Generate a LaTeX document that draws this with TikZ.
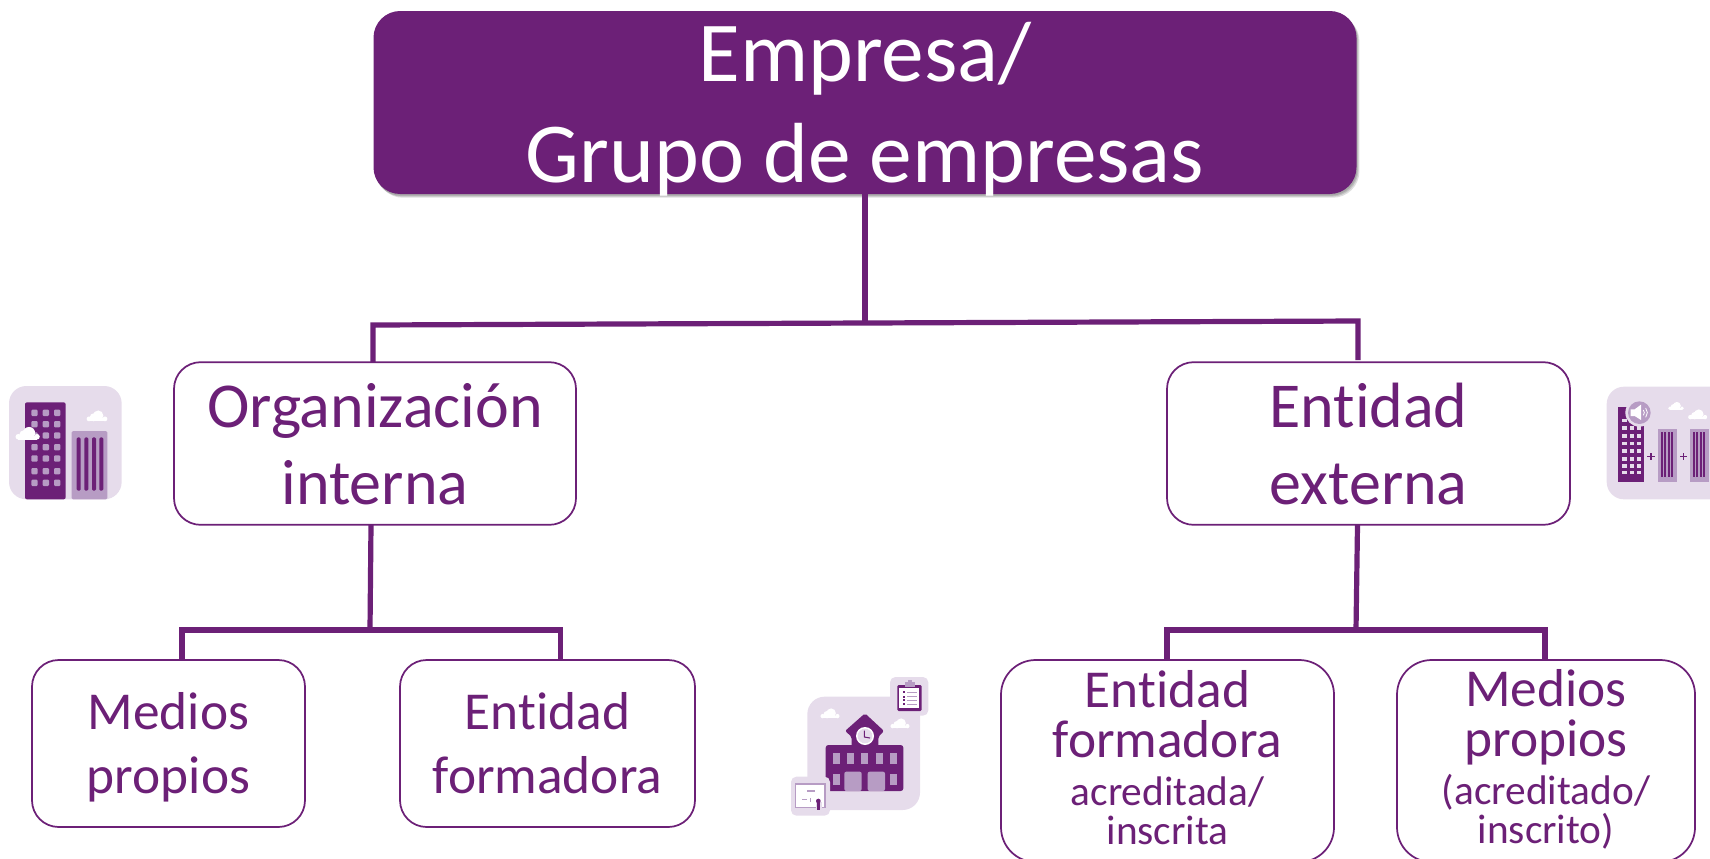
\documentclass[tikz,border=0pt]{standalone}
\usepackage{fontspec}
\setmainfont[Ligatures={NoCommon}]{Carlito}
\usetikzlibrary{shadows,calc}
\definecolor{pur}{HTML}{6C2077}
\definecolor{lite}{HTML}{E6DCEB}
\definecolor{midp}{HTML}{B79CC4}
\newcommand{\lbl}[2]{\makebox[0pt]{\raisebox{#1}[0pt][0pt]{\parbox[c]{900pt}{\centering #2}}}}
\newcommand{\fs}[2]{\fontsize{#1}{#2}\selectfont}
\newcommand{\pcloud}[3]{\begin{scope}[shift={(#1,#2)},scale=#3]
  \fill[white] (-20,3) circle[radius=6];
  \fill[white] (-8,-1) circle[radius=10];
  \fill[white] (3,-5) circle[radius=13];
  \fill[white] (20,3) circle[radius=6];
  \fill[white] (-20,2) rectangle (20,9);
\end{scope}}
\tikzset{
  x=0.75pt,y=-0.75pt,
  softshadow/.style={drop shadow={shadow xshift=#1,shadow yshift=-#1-.6pt,fill=black,opacity=.13}},
  topbox/.style={fill=pur,text=white,rounded corners=20pt,minimum width=737.25pt,minimum height=137.25pt,inner sep=0pt,softshadow=2.2pt,softshadow=1.4pt,softshadow=.7pt},
  midbox/.style={draw=pur,line width=1.3pt,fill=white,text=pur,rounded corners=20pt,inner sep=0pt},
  lowbox/.style={midbox,rounded corners=26pt},
  conn/.style={draw=pur,line width=3.9pt},
  iconbg/.style={fill=lite,rounded corners=13pt},
}
\begin{document}
\begin{tikzpicture}
\useasboundingbox (0,0) rectangle (1710,858);
\clip (0,0) rectangle (1710,858);
% boxes
\node[topbox] (top) at (865,102.5) {\lbl{-7.5pt}{\fs{64}{76}Empresa/\\Grupo de empresas}};
\node[midbox,minimum width=301.5pt,minimum height=122pt] (org) at (375,443.5) {\lbl{-3pt}{\fs{48}{58}Organización\\interna}};
\node[midbox,minimum width=302.25pt,minimum height=122pt] (ext) at (1368.5,443.5) {\lbl{-3pt}{\fs{48}{58}Entidad\\externa}};
\node[midbox,minimum width=204.75pt,minimum height=125.25pt] (mp) at (168.5,743.5) {\lbl{-5.5pt}{\fs{40}{48}Medios\\propios}};
\node[midbox,minimum width=221.25pt,minimum height=125.25pt] (ef) at (547.5,743.5) {\lbl{-2.5pt}{\fs{40}{48}Entidad\\formadora}};
\node[lowbox,minimum width=249.75pt,minimum height=151.5pt] (efa) at (1167.5,761) {\lbl{0pt}{\fs{40}{37.5}Entidad\par formadora\par\fs{31}{36}acreditada/\par\fs{31}{29}inscrita\par}};
\node[lowbox,minimum width=223.5pt,minimum height=151.5pt] (mpa) at (1546,761) {\lbl{-1.5pt}{\fs{40}{37.5}Medios\par propios\par\fs{31}{36}(acreditado/\par\fs{31}{29}inscrito)\par}};
% junctions
\coordinate (j0) at (865,323);
\coordinate (jl) at (373,325);
\coordinate (jr) at (1358,321);
\coordinate (dl) at (373,362);
\coordinate (dr) at (1358,360);
\coordinate (j1a) at (371,525);
\coordinate (j1) at (370,630);
\coordinate (j1l) at (182,630);
\coordinate (j1r) at (560.5,630);
\coordinate (d1l) at (182,660);
\coordinate (d1r) at (560.5,660);
\coordinate (j2a) at (1357.5,525);
\coordinate (j2) at (1356,630);
\coordinate (j2l) at (1167,630);
\coordinate (j2r) at (1545,630);
\coordinate (d2l) at (1167,660);
\coordinate (d2r) at (1545,660);
% connectors
\draw[conn] (top.south) -- (j0);
\draw[conn] (dl) -- (jl) -- (jr) -- (dr);
\draw[conn] (j1a) -- (j1);
\draw[conn] (d1l) -- (j1l) -- (j1r) -- (d1r);
\draw[conn] (j2a) -- (j2);
\draw[conn] (d2l) -- (j2l) -- (j2r) -- (d2r);
% left icon
\begin{scope}[shift={(0,370)},x=.25pt,y=-.25pt]
\fill[iconbg] (27,48) rectangle (365,388);
\fill[pur,rounded corners=1.5pt] (75,388) -- (75,97) -- (197,97) -- (197,388) -- cycle;
\foreach \cx in {94,128,162} \foreach \cy in {119,153,187,222,256,294,329}
  \fill[midp,rounded corners=.8pt] (\cx,\cy) rectangle ++(19,19);
\fill[midp,rounded corners=1pt] (215,388) -- (215,183) -- (322,183) -- (322,388) -- cycle;
\foreach \cx in {230,253,276,298} \fill[pur,rounded corners=1pt] (\cx,202) rectangle ++(12,160);
\pcloud{83}{196}{1.4}
\pcloud{291}{143}{1.2}
\end{scope}
% right icon
\begin{scope}[shift={(1590,370)},x=.25pt,y=-.25pt]
\fill[iconbg] (50,50) rectangle (440,388);
\fill[pur] (85,337) -- (85,112) -- (163,112) -- (163,337) -- cycle;
\foreach \cx in {97,119,141} \foreach \cy in {146,169,192,215,238,261,282,302}
  \fill[lite] (\cx,\cy) rectangle ++(13,11);
\fill[lite] (148,128) circle[radius=42];
\fill[midp] (148,128) circle[radius=34];
\fill[white] (122,118) -- (134,118) -- (153,104) -- (153,150) -- (134,138) -- (122,138) -- cycle;
\draw[white,line width=.6pt] (160,120) -- (163,128) -- (160,136);
\draw[white,line width=.6pt] (167,114) -- (172,128) -- (167,142);
\foreach \px in {183,280} {
  \fill[pur] (\px-11,257) rectangle (\px+11,261);
  \fill[pur] (\px-2,248) rectangle (\px+2,270);
}
\foreach \bx in {204,300} {
  \fill[midp] (\bx,177) rectangle ++(57,160);
  \foreach \dx in {9,19,29,39} \fill[pur] (\bx+\dx,187) rectangle ++(6,135);
}
\pcloud{258}{112}{.9}
\pcloud{323}{138}{1.1}
\end{scope}
% school icon
\begin{scope}[shift={(780,665)},x=.25pt,y=-.25pt]
\fill[iconbg] (82,95) rectangle (420,435);
\pcloud{150}{150}{1.1}
\pcloud{360}{180}{1.1}
\fill[pur,rounded corners=1.5pt] (195,198) -- (255,145) -- (312,198) -- (295,215) -- (295,245) -- (215,245) -- (215,215) -- cycle;
\fill[pur,rounded corners=2pt] (137,378) -- (137,240) -- (370,240) -- (370,378) -- cycle;
\fill[white] (255,213) circle[radius=27];
\fill[lite] (255,213) circle[radius=22];
\draw[pur,line width=.8pt] (253,197) -- (253,216) -- (270,219);
\foreach \wx in {158,200,243,287,330} \fill[midp] (\wx,265) rectangle ++(21,32);
\foreach \wx in {158,330} \fill[midp] (\wx,328) rectangle ++(21,32);
\fill[midp,rounded corners=1.5pt] (193,378) -- (193,320) -- (245,320) -- (245,378) -- cycle;
\fill[midp,rounded corners=1.5pt] (263,378) -- (263,320) -- (315,320) -- (315,378) -- cycle;
% clipboard
\fill[iconbg,rounded corners=4pt] (330,36) rectangle (445,152);
\fill[pur,rounded corners=1pt] (352,60) rectangle (425,138);
\fill[white] (358,68) rectangle (418,130);
\fill[midp] (375,50) rectangle (405,66);
\fill[midp] (385,44) rectangle (395,52);
\foreach \ly in {80,94,105,117} {
  \fill[pur] (368,\ly-2) rectangle ++(7,6);
  \fill[midp] (380,\ly) rectangle ++(30,2);
}
% certificate
\fill[iconbg,rounded corners=4pt] (33,335) rectangle (150,452);
\fill[midp] (45,355) rectangle (137,430);
\fill[white] (49,361) rectangle (133,426);
\fill[midp] (82,376) rectangle (105,381);
\fill[midp] (66,403) rectangle (80,406);
\fill[midp] (90,400) rectangle (94,412);
\fill[lite] (107,412) rectangle (125,440);
\fill[pur] (115,408) circle[radius=7];
\fill[pur] (110,415) rectangle (120,436);
\end{scope}
\end{tikzpicture}
\end{document}
